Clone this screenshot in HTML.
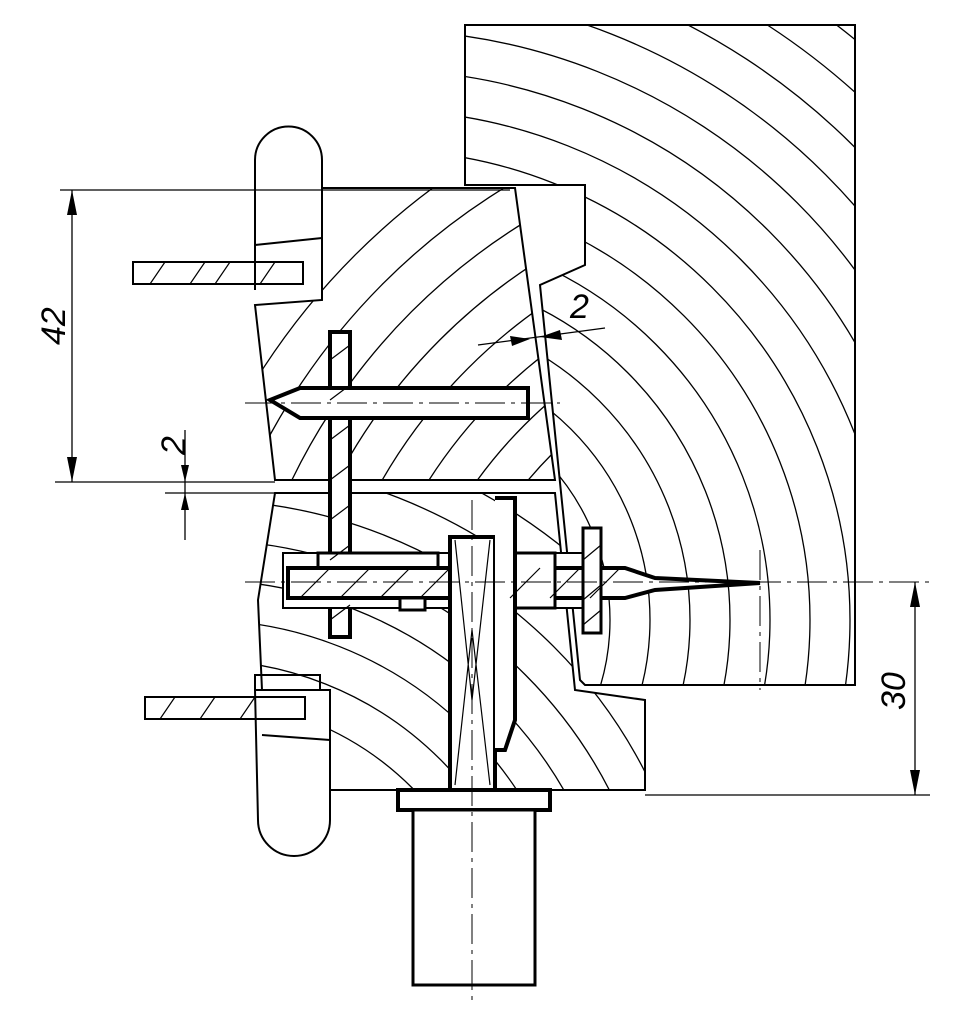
<!DOCTYPE html>
<html><head><meta charset="utf-8"><style>html,body{margin:0;padding:0;background:#fff;overflow:hidden;width:961px;height:1026px}svg{display:block}</style></head><body>
<svg width="961" height="1026" viewBox="0 0 961 1026" xmlns="http://www.w3.org/2000/svg" fill="none" stroke="#000" font-family="Liberation Sans, sans-serif">
<defs>
<clipPath id="cR"><polygon points="465,25 855,25 855,685 585,685 580,680 540,285 585,265 585,185 465,185"/></clipPath>
<clipPath id="cU"><polygon points="322,188 515,188 555,480 275,480 255,305 322,300"/></clipPath>
<clipPath id="cL"><polygon points="275,493 555,493 575,690 645,700 645,790 330,790 330,690 262,690 258,600"/></clipPath>
</defs>
<g stroke-width="1.3">
<g clip-path="url(#cR)">
<circle cx="380" cy="620" r="230"/><circle cx="380" cy="620" r="270"/><circle cx="380" cy="620" r="310"/><circle cx="380" cy="620" r="350"/><circle cx="380" cy="620" r="390"/><circle cx="380" cy="620" r="430"/><circle cx="380" cy="620" r="470"/><circle cx="380" cy="620" r="510"/><circle cx="380" cy="620" r="550"/><circle cx="380" cy="620" r="590"/><circle cx="380" cy="620" r="630"/><circle cx="380" cy="620" r="670"/><circle cx="380" cy="620" r="710"/><circle cx="380" cy="620" r="750"/><circle cx="380" cy="620" r="790"/>
</g>
<g clip-path="url(#cU)">
<circle cx="850" cy="750" r="300"/><circle cx="850" cy="750" r="340"/><circle cx="850" cy="750" r="380"/><circle cx="850" cy="750" r="420"/><circle cx="850" cy="750" r="460"/><circle cx="850" cy="750" r="500"/><circle cx="850" cy="750" r="540"/><circle cx="850" cy="750" r="580"/><circle cx="850" cy="750" r="620"/><circle cx="850" cy="750" r="660"/><circle cx="850" cy="750" r="700"/>
</g>
<g clip-path="url(#cL)">
<circle cx="200" cy="1000" r="300"/><circle cx="200" cy="1000" r="340"/><circle cx="200" cy="1000" r="380"/><circle cx="200" cy="1000" r="420"/><circle cx="200" cy="1000" r="460"/><circle cx="200" cy="1000" r="500"/><circle cx="200" cy="1000" r="540"/><circle cx="200" cy="1000" r="580"/><circle cx="200" cy="1000" r="620"/><circle cx="200" cy="1000" r="660"/>
</g>
</g>
<g stroke-width="2" fill="none">
<polygon points="465,25 855,25 855,685 585,685 580,680 540,285 585,265 585,185 465,185"/>
<polygon points="322,188 515,188 555,480 275,480 255,305 322,300"/>
<polygon points="275,493 555,493 575,690 645,700 645,790 330,790 330,690 262,690 258,600"/>
<path d="M255,290 L255,160 A33,33 0 0 1 322,160 L322,300"/>
<path d="M255,690 L258,820 A36,36 0 0 0 330,820 L330,690"/>
<line x1="255" y1="245" x2="322" y2="238"/>
<line x1="262" y1="735" x2="330" y2="740"/>
<rect x="133" y="262" width="170" height="22"/>
<rect x="145" y="697" width="160" height="22"/>
<rect x="255" y="675" width="65" height="15"/>
</g>
<g stroke-width="1.2">
<path d="M150,284 L165,262 M190,284 L205,262 M215,284 L230,262 M260,284 L275,262 M160,719 L175,697 M200,719 L215,697 M240,719 L255,697"/>
</g>
<g fill="#fff" stroke-width="4">
<rect x="330" y="332" width="20" height="305"/>
<path d="M270,400 L300,388 L528,388 L528,418 L300,418 Z"/>
<rect x="283" y="553" width="315" height="55" stroke-width="2"/>
<rect x="318" y="553" width="120" height="16" stroke-width="3"/>
<path d="M288,568 L625,568 L655,578 L760,583 L655,590 L625,598 L288,598 Z"/>
<rect x="400" y="598" width="25" height="12" stroke-width="3"/>
<rect x="500" y="553" width="55" height="55" stroke-width="3"/>
<rect x="583" y="528" width="18" height="105" stroke-width="3"/>
<rect x="450" y="537" width="45" height="253"/>
<rect x="398" y="790" width="152" height="20"/>
<rect x="413" y="810" width="122" height="175" stroke-width="3"/>
<path d="M495,498 L515,498 L515,720 L505,750 L495,750"/>
</g>
<g stroke-width="1.2">
<path d="M330,360 L350,345 M330,400 L350,385 M330,440 L350,425 M330,480 L350,465 M330,520 L350,505 M330,560 L350,545 M330,620 L350,605"/>
<path d="M300,598 L330,568 M340,598 L370,568 M380,598 L410,568 M420,598 L450,568 M510,598 L540,568 M550,598 L580,568 M590,598 L620,568"/>
<path d="M583,560 L601,545 M583,600 L601,585 M583,625 L601,610"/>
<path d="M455,540 L472,700 L490,540 M455,785 L472,630 L490,785"/>
</g>
<g stroke-width="1" stroke-dasharray="30,6,4,6">
<line x1="245" y1="582" x2="930" y2="582"/>
<line x1="245" y1="403" x2="560" y2="403"/>
<line x1="472" y1="500" x2="472" y2="1000"/>
<line x1="760" y1="550" x2="760" y2="690"/>
</g>
<g stroke-width="1.3">
<line x1="60" y1="190" x2="510" y2="190"/>
<line x1="55" y1="482" x2="275" y2="482"/>
<line x1="165" y1="493" x2="275" y2="493"/>
<line x1="72" y1="190" x2="72" y2="482"/>
<line x1="185" y1="430" x2="185" y2="540"/>
<line x1="645" y1="795" x2="930" y2="795"/>
<line x1="915" y1="582" x2="915" y2="795"/>
<line x1="478" y1="345" x2="605" y2="328"/>
</g>
<g fill="#000" stroke="none">
<polygon points="72,190 67,215 77,215"/><polygon points="72,482 67,457 77,457"/>
<polygon points="185,482 181,465 189,465"/><polygon points="185,493 181,510 189,510"/>
<polygon points="915,582 910,607 920,607"/><polygon points="915,795 910,770 920,770"/>
<polygon points="530,339 510,336 512,346"/><polygon points="540,337 560,330 562,340"/>
</g>
<g fill="#000" stroke="none" font-style="italic" font-size="34">
<text transform="translate(65,345) rotate(-90)">42</text>
<text transform="translate(185,455) rotate(-90)">2</text>
<text x="570" y="318">2</text>
<text transform="translate(905,710) rotate(-90)">30</text>
</g>
</svg>
</body></html>
